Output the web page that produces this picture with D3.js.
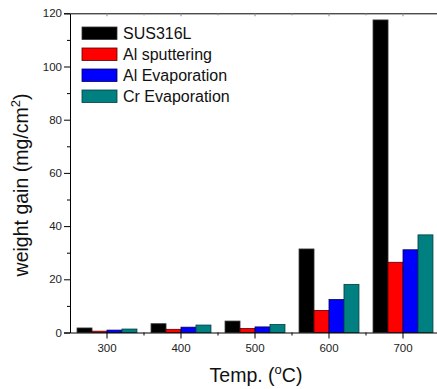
<!DOCTYPE html>
<html>
<head>
<meta charset="utf-8">
<script src="https://cdn.jsdelivr.net/npm/d3@7/dist/d3.min.js"></script>
<style>
  body { margin: 0; background: #fff; }
  svg { display: block; font-family: Arial, "Liberation Sans", sans-serif; }
</style>
</head>
<body>
<svg id="chart" width="437" height="389"></svg>
<script>
// data
const temps = ['300', '400', '500', '600', '700']
const series = ['SUS316L', 'Al sputtering', 'Al Evaporation', 'Cr Evaporation']
const sus316l = [1.7, 3.3, 4.3, 31.4, 117.5]
const alSputtering = [0.5, 1.2, 1.5, 8.3, 26.4]
const alEvaporation = [0.9, 2.0, 2.1, 12.4, 31.1]
const crEvaporation = [1.3, 2.8, 3.0, 18.1, 36.7]
const yTicks = [0, 20, 40, 60, 80, 100, 120]
const yMinor = [10, 30, 50, 70, 90, 110]

const colors = ['#000000', '#ff0000', '#0000ff', '#008080']
const strokes = ['#333333', '#550000', '#000055', '#003c3c']
const values = [sus316l, alSputtering, alEvaporation, crEvaporation]

const svg = d3.select('#chart')
const mLeft = 70, mRight = 440, mTop = 13.3, mBottom = 332.5

const x = d3.scaleBand().domain(temps).range([mLeft, mRight])
const x1 = d3.scaleBand().domain(series).range([0, x.bandwidth()]).paddingOuter(0.47)
const y = d3.scaleLinear().domain([0, 120]).range([mBottom, mTop])

// bars
const rows = temps.map((t, i) => series.map((s, j) => ({ t, s, j, v: values[j][i] })))
svg.append('g')
    .selectAll('g')
    .data(rows)
    .enter()
    .append('g')
    .selectAll('rect')
    .data((d) => d)
    .enter()
    .append('rect')
    .attr('x', (d) => x(d.t) + x1(d.s))
    .attr('y', (d) => y(d.v))
    .attr('width', x1.bandwidth())
    .attr('height', (d) => y(0) - y(d.v))
    .attr('fill', (d) => colors[d.j])
    .attr('stroke', (d) => strokes[d.j])
    .attr('stroke-width', 0.8)

// left axis
const yAxis = svg.append('g')
    .attr('transform', 'translate(' + mLeft + ',0)')
    .call(d3.axisLeft(y).tickValues(yTicks).tickSize(6).tickPadding(2))
yAxis.selectAll('text').attr('font-size', 11.5).attr('fill', '#222').attr('font-family', 'Arial, "Liberation Sans", sans-serif')
yAxis.select('.domain').attr('stroke', '#000')
svg.append('g')
    .attr('transform', 'translate(' + mLeft + ',0)')
    .call(d3.axisLeft(y).tickValues(yMinor).tickSize(3).tickFormat(''))
    .select('.domain').remove()

// bottom axis
const xAxis = svg.append('g')
    .attr('transform', 'translate(0,' + mBottom + ')')
    .call(d3.axisBottom(x).tickSize(6).tickSizeOuter(0).tickPadding(3))
xAxis.selectAll('text').attr('font-size', 11.5).attr('fill', '#222').attr('font-family', 'Arial, "Liberation Sans", sans-serif')
xAxis.selectAll('.tick text').attr('dy', '0.95em')
svg.append('g')
    .selectAll('line')
    .data(temps.slice(1))
    .enter()
    .append('line')
    .attr('x1', (d) => x(d))
    .attr('x2', (d) => x(d))
    .attr('y1', mBottom)
    .attr('y2', mBottom + 3)
    .attr('stroke', '#000')

// top frame line with small inward ticks
const xTop = svg.append('g')
    .attr('transform', 'translate(0,' + mTop + ')')
    .call(d3.axisTop(x).tickSize(-3).tickSizeOuter(0).tickFormat(''))
xTop.selectAll('.tick line').attr('stroke', '#888')
svg.append('g')
    .selectAll('line')
    .data(temps.slice(1))
    .enter()
    .append('line')
    .attr('x1', (d) => x(d))
    .attr('x2', (d) => x(d))
    .attr('y1', mTop)
    .attr('y2', mTop + 2)
    .attr('stroke', '#888')

// legend
const legend = svg.append('g').attr('transform', 'translate(82,27)')
const item = legend.selectAll('g')
    .data(series)
    .enter()
    .append('g')
    .attr('transform', (d, i) => 'translate(0,' + i * 21 + ')')
item.append('rect')
    .attr('width', 35)
    .attr('height', 12.5)
    .attr('fill', (d, i) => colors[i])
    .attr('stroke', (d, i) => strokes[i])
    .attr('stroke-width', 0.8)
item.append('text')
    .attr('x', 41)
    .attr('y', 12.3)
    .attr('font-size', 16)
    .attr('fill', '#111')
    .text((d) => d)

// axis titles
const yLabel = svg.append('text')
    .attr('transform', 'translate(28,185) rotate(-90)')
    .attr('text-anchor', 'middle')
    .attr('font-size', 19.5)
    .attr('fill', '#111')
yLabel.append('tspan').text('weight gain (mg/cm')
yLabel.append('tspan').attr('dy', -8).attr('font-size', 13).text('2')
yLabel.append('tspan').attr('dy', 8).text(')')

const xLabel = svg.append('text')
    .attr('x', 256)
    .attr('y', 382)
    .attr('text-anchor', 'middle')
    .attr('font-size', 19.5)
    .attr('fill', '#111')
xLabel.append('tspan').text('Temp. (')
xLabel.append('tspan').attr('dy', -8).attr('font-size', 13).text('o')
xLabel.append('tspan').attr('dy', 8).text('C)')
</script>
</body>
</html>
